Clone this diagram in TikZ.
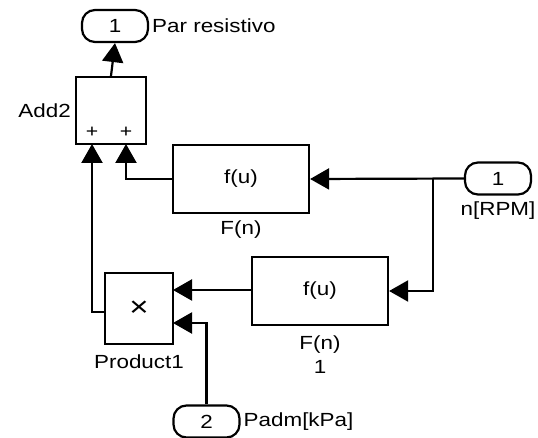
\documentclass[tikz,border=0pt]{standalone}
\usepackage{fontspec}
\setmainfont{Liberation Sans}[FakeStretch=1.18]
\usetikzlibrary{arrows.meta}

\begin{document}
\begin{tikzpicture}[x=1pt,y=-1pt,line width=2.2pt,
        font=\fontsize{19}{22}\selectfont,
        blk/.style={draw,minimum width=#1,minimum height=68pt,inner sep=0pt},
        port/.style={draw,rounded corners=13pt,minimum width=66pt,minimum height=32pt,inner sep=0pt},
        sig/.style={-{Triangle[length=19pt,width=21pt]}}]
    \useasboundingbox (0,0) rectangle (538,438);

    % blocks
    \node[blk=70pt,minimum height=67pt] (add) at (111,110.5) {};
    \node[blk=136pt] (fcnA) at (241,179) {f(u)};
    \node[blk=136pt] (fcnB) at (320,291) {f(u)};
    \node[blk=68pt,minimum height=71pt,font=\fontsize{28}{30}\selectfont] (prod) at (139,308.5) {×};
    \node[port] (out) at (115,26) {1};
    \node[port] (inA) at (498,178.5) {1};
    \node[port] (inB) at (206.5,421.5) {2};

    % labels
    \node[anchor=west,inner sep=2pt] (outlbl) at (out.east) {Par resistivo};
    \node[anchor=east,inner sep=3pt] (addlbl) at (add.west) {Add2};
    \node (fcnAlbl) at (241,230) {F(n)};
    \node (inAlbl) at (498,211) {n[RPM]};
    \node (fcnBlbl) at (320,345) {F(n)};
    \node (fcnBnum) at (320,367) {1};
    \node (prodlbl) at (139,362) {Product1};
    \node[anchor=west,inner sep=2pt] (inBlbl) at (inB.east) {Padm[kPa]};
    \node[font=\fontsize{18}{18}\selectfont] (plusA) at (92,132) {+};
    \node[font=\fontsize{18}{18}\selectfont] (plusB) at (126,132) {+};

    % ports and bends
    \coordinate (addinA) at (92,144);
    \coordinate (addinB) at (126,144);
    \coordinate (prodinA) at (173,290);
    \coordinate (prodinB) at (173,323);
    \coordinate (branch) at (433,178.5);

    % signals
    \draw[sig] (add.north) -- (out.south);
    \draw[sig] (fcnA.west) -| (addinB);
    \draw[sig] (prod.west |- 0,312) -| (addinA);
    \draw[sig] (inA.west) -- (fcnA.east);
    \draw[sig] (branch) |- (fcnB.east);
    \draw[sig] (fcnB.west |- prodinA) -- (prodinA);
    \draw[sig] (inB.north) |- (prodinB);
\end{tikzpicture}
\end{document}
